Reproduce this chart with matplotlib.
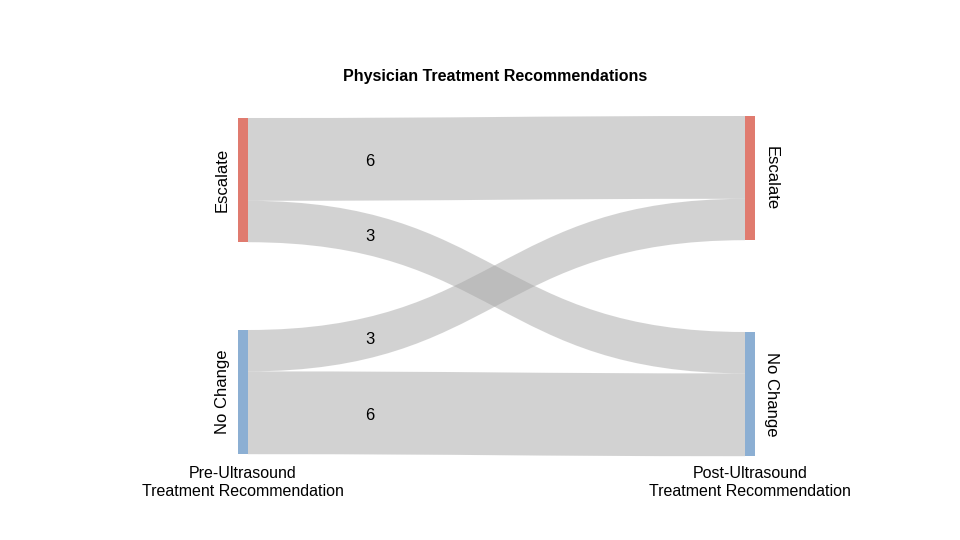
import numpy as np
import matplotlib
matplotlib.use("Agg")
import matplotlib.pyplot as plt
from matplotlib.path import Path
from matplotlib.patches import PathPatch, Rectangle

plt.rcParams['font.family'] = ['Liberation Sans', 'DejaVu Sans']

# ---- data ----
title = "Physician Treatment Recommendations"
nodes = ["Escalate", "No Change"]
node_colors = ["#e07b6f", "#8cafd3"]
sources = [0, 0, 1, 1]          # pre-ultrasound
targets = [0, 1, 0, 1]          # post-ultrasound
values = [6, 3, 3, 6]
left_title = "Pre-Ultrasound\nTreatment Recommendation"
right_title = "Post-Ultrasound\nTreatment Recommendation"

# ---- layout ----
W, H = 960, 540
fig = plt.figure(figsize=(9.6, 5.4), dpi=100)
ax = fig.add_axes([0, 0, 1, 1])
ax.set_xlim(0, W)
ax.set_ylim(H, 0)
ax.axis('off')

scale = 13.8               # px per unit
node_w = 10
xl, xr = 238, 745          # left edges of node columns
left_tops = [118, 330]
right_tops = [116, 332]

left_tot = [sum(v for s, v in zip(sources, values) if s == i) for i in range(len(nodes))]
right_tot = [sum(v for t, v in zip(targets, values) if t == i) for i in range(len(nodes))]

# nodes
for i, n in enumerate(nodes):
    ax.add_patch(Rectangle((xl, left_tops[i]), node_w, left_tot[i] * scale,
                           facecolor=node_colors[i], edgecolor='none', zorder=3))
    ax.add_patch(Rectangle((xr, right_tops[i]), node_w, right_tot[i] * scale,
                           facecolor=node_colors[i], edgecolor='none', zorder=3))
    ax.text(xl - 16, left_tops[i] + left_tot[i] * scale / 2, n, rotation=90,
            ha='center', va='center', fontsize=12, color='black')
    ax.text(xr + node_w + 16, right_tops[i] + right_tot[i] * scale / 2, n, rotation=-90,
            ha='center', va='center', fontsize=12, color='black')

# links
x0, x1 = xl + node_w, xr
xm = (x0 + x1) / 2
left_off = list(left_tops)
right_off = list(right_tops)
order = sorted(range(len(values)), key=lambda k: (sources[k], targets[k]))
in_order = sorted(range(len(values)), key=lambda k: (targets[k], sources[k]))
ystart, yend = {}, {}
for k in order:
    ystart[k] = left_off[sources[k]]
    left_off[sources[k]] += values[k] * scale
for k in in_order:
    yend[k] = right_off[targets[k]]
    right_off[targets[k]] += values[k] * scale

def bez(t, p0, p1, p2, p3):
    return (1-t)**3*p0 + 3*(1-t)**2*t*p1 + 3*(1-t)*t**2*p2 + t**3*p3

label_x = 370
for k in range(len(values)):
    h = values[k] * scale
    ya, yb = ystart[k], yend[k]
    verts = [(x0, ya), (xm, ya), (xm, yb), (x1, yb),
             (x1, yb + h), (xm, yb + h), (xm, ya + h), (x0, ya + h), (x0, ya)]
    codes = [Path.MOVETO, Path.CURVE4, Path.CURVE4, Path.CURVE4,
             Path.LINETO, Path.CURVE4, Path.CURVE4, Path.CURVE4, Path.CLOSEPOLY]
    ax.add_patch(PathPatch(Path(verts, codes), facecolor=(0.655, 0.655, 0.655, 0.5),
                           edgecolor='none', zorder=2))
    ts = np.linspace(0, 1, 2001)
    xs = bez(ts, x0, xm, xm, x1)
    t = ts[np.argmin(np.abs(xs - label_x))]
    yc = bez(t, ya, ya, yb, yb) + h / 2 + 2
    ax.text(label_x, yc, str(values[k]), ha='center', va='center', fontsize=12, color='black', zorder=4)

ax.text(W / 2 + 15, 77, title, ha='center', va='center', fontsize=11.5, fontweight='bold')
ax.text(243, 483, left_title, ha='center', va='center', fontsize=11.5, linespacing=1.25)
ax.text(750, 483, right_title, ha='center', va='center', fontsize=11.5, linespacing=1.25)

fig.savefig("out.png", dpi=100, facecolor='white')
